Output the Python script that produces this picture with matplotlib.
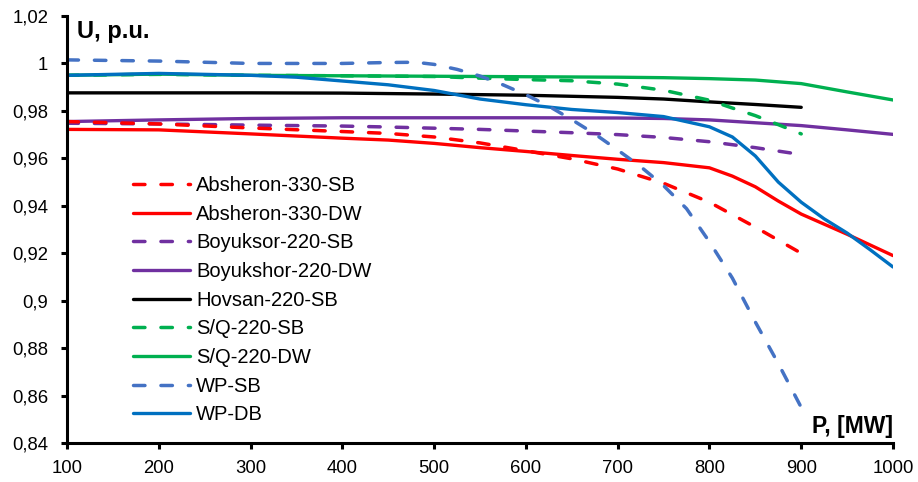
import matplotlib
matplotlib.use("Agg")
import matplotlib.pyplot as plt

plt.rcParams['font.family'] = ['Liberation Sans', 'DejaVu Sans']

# Absheron-330-SB (red, dashed)
p_absheron_sb = [100, 200, 300, 400, 450, 500, 550, 600, 650, 700, 750, 800, 850, 900]
u_absheron_sb = [0.9755, 0.9745, 0.9728, 0.9713, 0.9705, 0.969, 0.9665, 0.9632, 0.9598,
                 0.9555, 0.9495, 0.9415, 0.931, 0.920]
# Absheron-330-DW (red, solid)
p_absheron_dw = [100, 200, 300, 400, 450, 500, 550, 600, 650, 700, 750, 800, 825, 850, 875,
                 900, 950, 1000]
u_absheron_dw = [0.9722, 0.972, 0.9703, 0.9685, 0.9677, 0.9663, 0.9645, 0.9629, 0.9612,
                 0.9596, 0.9582, 0.956, 0.9525, 0.948, 0.942, 0.9365, 0.928, 0.919]
# Boyuksor-220-SB (purple, dashed)
p_boyuksor_sb = [100, 200, 300, 400, 450, 500, 550, 600, 650, 700, 750, 800, 850, 900]
u_boyuksor_sb = [0.9748, 0.9745, 0.974, 0.9736, 0.9732, 0.9727, 0.9722, 0.9715, 0.9708,
                 0.970, 0.9688, 0.967, 0.9645, 0.9616]
# Boyukshor-220-DW (purple, solid)
p_boyukshor_dw = [100, 200, 300, 400, 500, 600, 700, 750, 800, 850, 900, 950, 1000]
u_boyukshor_dw = [0.9755, 0.9762, 0.9768, 0.9771, 0.9771, 0.9771, 0.977, 0.9768, 0.9762,
                  0.975, 0.9738, 0.972, 0.9701]
# Hovsan-220-SB (black)
p_hovsan_sb = [100, 200, 300, 400, 500, 600, 700, 750, 800, 850, 900]
u_hovsan_sb = [0.9876, 0.9876, 0.9876, 0.9875, 0.9871, 0.9866, 0.9857, 0.985, 0.9838,
               0.9827, 0.9815]
# S/Q-220-SB (green, dashed)
p_sq_sb = [100, 200, 300, 400, 500, 550, 600, 650, 700, 750, 775, 800, 825, 850, 875, 900]
u_sq_sb = [0.995, 0.9954, 0.995, 0.9948, 0.9945, 0.9938, 0.9932, 0.9927, 0.9913, 0.9887,
           0.9866, 0.9845, 0.9812, 0.978, 0.9742, 0.9703]
# S/Q-220-DW (green, solid)
p_sq_dw = [100, 200, 300, 400, 500, 600, 700, 750, 800, 850, 900, 950, 1000]
u_sq_dw = [0.995, 0.9955, 0.995, 0.9948, 0.9946, 0.9944, 0.9942, 0.994, 0.9936, 0.993,
           0.9915, 0.988, 0.9846]
# WP-SB (blue, dashed)
p_wp_sb = [100, 200, 300, 400, 450, 480, 500, 525, 550, 575, 600, 625, 650, 675, 700, 725,
           750, 775, 800, 825, 850, 875, 900]
u_wp_sb = [1.0015, 1.001, 1.0, 1.0, 1.0004, 1.0005, 0.9996, 0.9975, 0.9947, 0.991, 0.9868,
           0.982, 0.9763, 0.9703, 0.9635, 0.9565, 0.9485, 0.9388, 0.9248, 0.9095, 0.891,
           0.8735, 0.855]
# WP-DB (blue, solid)
p_wp_db = [100, 200, 300, 350, 400, 450, 500, 550, 600, 650, 700, 750, 800, 825, 850, 875,
           900, 925, 950, 975, 1000]
u_wp_db = [0.995, 0.9958, 0.995, 0.9942, 0.9926, 0.991, 0.9886, 0.985, 0.9826, 0.9806,
           0.9793, 0.9776, 0.9733, 0.969, 0.961, 0.950, 0.9415, 0.9345, 0.9285, 0.9215,
           0.9142]

series = [
    ("Absheron-330-SB", p_absheron_sb, u_absheron_sb, "#FF0000", True),
    ("Absheron-330-DW", p_absheron_dw, u_absheron_dw, "#FF0000", False),
    ("Boyuksor-220-SB", p_boyuksor_sb, u_boyuksor_sb, "#7030A0", True),
    ("Boyukshor-220-DW", p_boyukshor_dw, u_boyukshor_dw, "#7030A0", False),
    ("Hovsan-220-SB", p_hovsan_sb, u_hovsan_sb, "#000000", False),
    ("S/Q-220-SB", p_sq_sb, u_sq_sb, "#00B050", True),
    ("S/Q-220-DW", p_sq_dw, u_sq_dw, "#00B050", False),
    ("WP-SB", p_wp_sb, u_wp_sb, "#4472C4", True),
    ("WP-DB", p_wp_db, u_wp_db, "#0070C0", False),
]

y_ticks = [0.84, 0.86, 0.88, 0.90, 0.92, 0.94, 0.96, 0.98, 1.0, 1.02]
y_tick_labels = ["0,84", "0,86", "0,88", "0,9", "0,92", "0,94", "0,96", "0,98", "1", "1,02"]
x_ticks = [100, 200, 300, 400, 500, 600, 700, 800, 900, 1000]

fig = plt.figure(figsize=(9.18, 4.82), dpi=100)
ax = fig.add_axes([67/918, 1-443/482, 826/918, 427/482])

order = [4, 3, 2, 6, 5, 1, 0, 8, 7]
handles = {}
for i in order:
    name, xs, ys, col, dashed = series[i]
    if dashed:
        ln, = ax.plot(xs, ys, color=col, lw=2.5, dashes=(3.3, 4.6), label=name,
                      dash_capstyle='round', dash_joinstyle='round')
    else:
        ln, = ax.plot(xs, ys, color=col, lw=2.4, label=name, solid_capstyle='round',
                      solid_joinstyle='round')
    handles[i] = ln

ax.set_xlim(100, 1000)
ax.set_ylim(0.84, 1.02)
ax.set_xticks(x_ticks)
ax.set_xticklabels([str(v) for v in x_ticks])
ax.set_yticks(y_ticks)
ax.set_yticklabels(y_tick_labels)
for s in ['top', 'right']:
    ax.spines[s].set_visible(False)
for s in ['left', 'bottom']:
    ax.spines[s].set_linewidth(2.2)
ax.tick_params(axis='both', direction='out', length=4.5, width=2.2, labelsize=13.3, colors='black')
ax.tick_params(axis='y', pad=9)
ax.tick_params(axis='x', pad=8)

ax.text(10/826, 1-4/427, "U, p.u.", transform=ax.transAxes, ha='left', va='top',
        fontsize=17, fontweight='bold')
ax.text(1.0, (443-433)/427, "P, [MW]", transform=ax.transAxes, ha='right', va='baseline',
        fontsize=16.5, fontweight='bold')

leg = ax.legend([handles[i] for i in range(9)], [s[0] for s in series],
                loc='upper left', bbox_to_anchor=(133/918, 1-176/482),
                bbox_transform=fig.transFigure, frameon=False, fontsize=14.5,
                handlelength=2.84, handletextpad=0.3, labelspacing=0.48,
                borderpad=0, borderaxespad=0)

fig.savefig("out.png", dpi=100)
